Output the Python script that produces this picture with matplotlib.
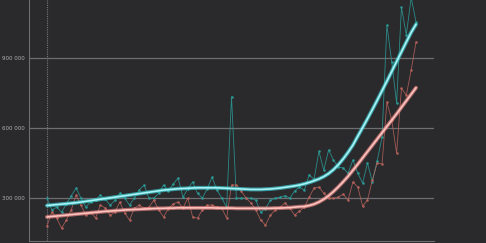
import matplotlib.pyplot as plt

# weekly values (thousands)
teal_raw = [300, 249, 261, 240, 275, 310, 343, 300, 261, 285, 291, 313, 295, 270, 290, 321,
            300, 270, 300, 335, 356, 300, 300, 320, 356, 330, 360, 386, 304, 340, 369, 320,
            300, 340, 390, 334, 300, 261, 735, 300, 300, 300, 300, 291, 240, 255, 290, 300,
            304, 310, 300, 330, 347, 334, 400, 380, 500, 420, 506, 463, 433, 429, 407, 463,
            407, 364, 450, 370, 460, 561, 1041, 883, 707, 1118, 999, 1160, 1054]
pink_raw = [180, 240, 214, 171, 206, 250, 313, 270, 227, 240, 214, 270, 257, 227, 240, 283,
            236, 206, 257, 270, 257, 261, 291, 250, 219, 255, 275, 283, 257, 300, 219, 214,
            250, 270, 270, 262, 257, 214, 356, 356, 330, 300, 279, 250, 206, 184, 227, 249,
            261, 279, 257, 227, 245, 261, 304, 343, 347, 321, 300, 300, 304, 317, 291, 369,
            347, 266, 291, 377, 450, 446, 711, 634, 493, 771, 741, 849, 969]

# smoothed trend lines
teal_trend = [268, 270, 272, 274, 276, 278, 280, 283, 286, 289, 292, 295, 298, 301, 304, 307,
              310, 313, 316, 319, 322, 325, 328, 331, 334, 336, 338, 340, 341, 342, 343, 344,
              344, 344, 344, 344, 343, 342, 341, 340, 339, 338, 337, 337, 337, 338, 339, 341,
              343, 346, 349, 352, 356, 361, 367, 374, 382, 392, 405, 422, 443, 468, 496, 527,
              565, 602, 640, 679, 719, 760, 801, 843, 885, 927, 969, 1010, 1045]
pink_trend = [219, 221, 223, 225, 227, 229, 231, 233, 235, 237, 239, 241, 243, 244, 246, 247,
              249, 250, 251, 252, 253, 254, 255, 256, 256, 257, 257, 258, 258, 258, 258, 258,
              258, 258, 258, 257, 257, 257, 257, 256, 256, 256, 256, 256, 256, 256, 256, 257,
              257, 258, 259, 261, 263, 264, 268, 274, 283, 295, 310, 328, 348, 370, 393, 419,
              445, 472, 499, 526, 553, 580, 607, 634, 661, 689, 717, 745, 773]

yticks = [300, 600, 900]
ytick_labels = ['300 000', '600 000', '900 000']

bg = '#2a2a2d'
x = list(range(len(teal_raw)))

fig = plt.figure(figsize=(4.86, 2.43), dpi=100, facecolor=bg)
ax = fig.add_axes([29 / 486, 2 / 243, 405 / 486, 241 / 243])
ax.set_facecolor(bg)

for v in yticks:
    ax.axhline(v, color='#6e6e70', lw=0.9, zorder=1)
ax.axvline(0, color='#77777a', lw=0.8, ls=(0, (1, 1)), zorder=1)

ax.plot(x, teal_raw, color='#2a9c98', lw=0.6, alpha=0.85, marker='o', ms=0.9, zorder=2)
ax.plot(x, pink_raw, color='#b8625b', lw=0.6, alpha=0.85, marker='o', ms=0.9, zorder=2)

# glow + bright core for the trend lines
ax.plot(x, pink_trend, color='#f08a86', lw=2.8, alpha=0.65, solid_capstyle='round', zorder=3)
ax.plot(x, pink_trend, color='#ffc4c0', lw=1.2, solid_capstyle='round', zorder=4)
ax.plot(x, teal_trend, color='#3fd6dc', lw=2.8, alpha=0.65, solid_capstyle='round', zorder=3)
ax.plot(x, teal_trend, color='#a8f4f6', lw=1.2, solid_capstyle='round', zorder=4)

ax.set_xlim(-3.7, 79.7)
ax.set_ylim(116, 1149)
ax.set_yticks(yticks)
ax.set_yticklabels(ytick_labels)
ax.set_xticks([])
ax.tick_params(axis='y', length=0, pad=3, labelsize=4, labelcolor='#b0b0b0')

for s in ['top', 'right']:
    ax.spines[s].set_visible(False)
ax.spines['left'].set_color('#6e6e70')
ax.spines['bottom'].set_color('#6e6e70')
ax.spines['left'].set_linewidth(0.8)
ax.spines['bottom'].set_linewidth(0.8)

fig.savefig('out.png', dpi=100, facecolor=bg)
